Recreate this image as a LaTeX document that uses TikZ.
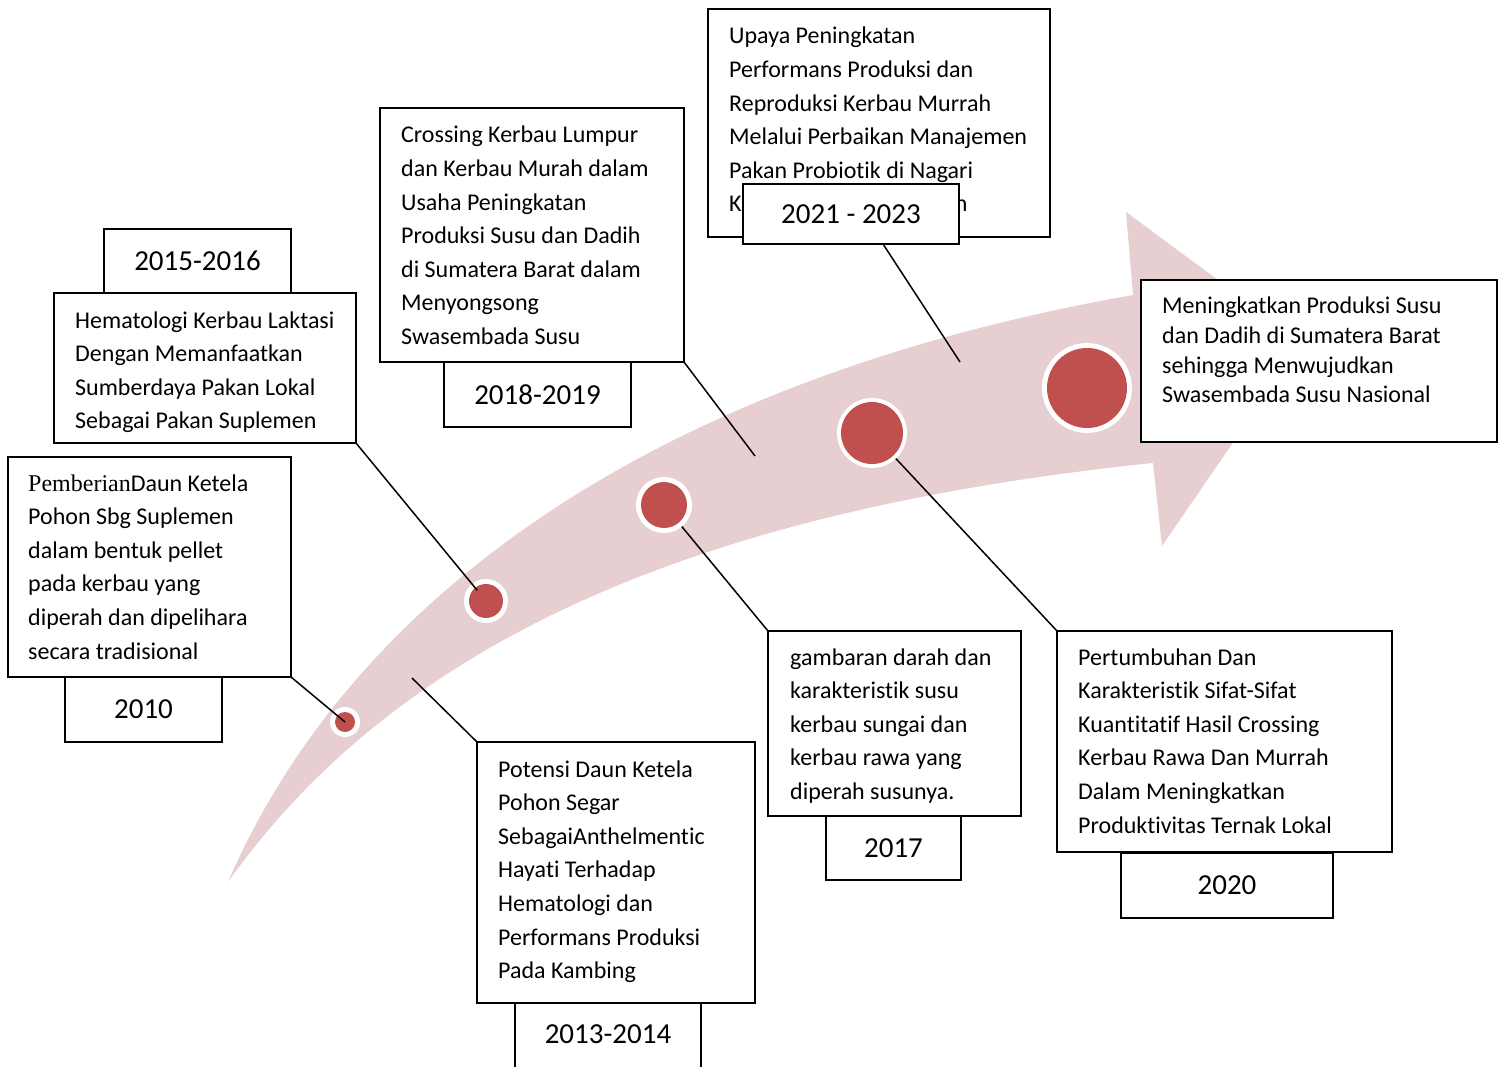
\documentclass[tikz,border=0pt]{standalone}
\usepackage{fontspec}
\setmainfont[Ligatures=CommonOff]{Carlito}
\newfontfamily\serifpart{Liberation Serif}
\usetikzlibrary{calc}
\definecolor{band}{RGB}{231,207,209}
\definecolor{dot}{RGB}{192,80,77}
\newcommand\bodyfont{\fontsize{24}{33.6}\selectfont}
\newcommand\yearfont{\fontsize{29}{34}\selectfont}
\begin{document}
\begin{tikzpicture}[x=1pt,y=-1pt,
  box/.style={draw=black,line width=1.6pt,fill=white,inner sep=0pt,outer sep=0pt},
  txt/.style={anchor=base west,inner sep=0pt,font=\bodyfont},
  yr/.style={inner sep=0pt,font=\yearfont},
  conn/.style={draw=black,line width=1.5pt},
  ring/.style={circle,fill=white,inner sep=0pt,outer sep=0pt},
  reddot/.style={circle,fill=dot,inner sep=0pt,outer sep=0pt}]
\useasboundingbox (0,0) rectangle (1502,1067);
\clip (0,0) rectangle (1502,1067);
% curved arrow
\fill[band] (228,882) .. controls (350,600) and (650,380) .. (1133,295)
  -- (1126,212) -- (1302,342) -- (1162,546) -- (1153,463)
  .. controls (700,510) and (400,640) .. (228,882) -- cycle;
% circles
\node[ring,minimum size=30pt] (r1) at (345,722) {};
\node[reddot,minimum size=20pt] (c1) at (345,722) {};
\node[ring,minimum size=44pt] (r2) at (486,601) {};
\node[reddot,minimum size=34pt] (c2) at (486,601) {};
\node[ring,minimum size=56pt] (r3) at (664,505) {};
\node[reddot,minimum size=46pt] (c3) at (664,505) {};
\node[ring,minimum size=70pt] (r4) at (872,433) {};
\node[reddot,minimum size=62pt] (c4) at (872,433) {};
\node[ring,minimum size=90pt] (r5) at (1087,388) {};
\node[reddot,minimum size=80pt] (c5) at (1087,388) {};
% boxes
\node[box,minimum width=283pt,minimum height=220pt] (A) at (149.5,567) {};
\node[box,minimum width=302pt,minimum height=150pt] (B) at (205,368) {};
\node[box,minimum width=304pt,minimum height=254pt] (C) at (532,235) {};
\node[box,minimum width=342pt,minimum height=228pt] (D) at (879,123) {};
\node[box,minimum width=356pt,minimum height=162pt] (E) at (1319,361) {};
\node[box,minimum width=253pt,minimum height=185pt] (F) at (894.5,723.5) {};
\node[box,minimum width=335pt,minimum height=221pt] (G) at (1224.5,741.5) {};
\node[box,minimum width=278pt,minimum height=261pt] (H) at (616,872.5) {};
% texts
\node[txt] (A0) at (28,491) {{\serifpart Pemberian}Daun Ketela};
\foreach \t [count=\i] in {Pohon Sbg Suplemen,dalam bentuk pellet,pada kerbau yang,diperah dan dipelihara,secara tradisional}
  \node[txt] (A\i) at (28,491+33.6*\i) {\t};
\foreach \t [count=\i from 0] in {Hematologi Kerbau Laktasi,Dengan Memanfaatkan,Sumberdaya Pakan Lokal,Sebagai Pakan Suplemen}
  \node[txt] (B\i) at (75,328+33.6*\i) {\t};
\foreach \t [count=\i from 0] in {Crossing Kerbau Lumpur,dan Kerbau Murah dalam,Usaha Peningkatan,Produksi Susu dan Dadih,di Sumatera Barat dalam,Menyongsong,Swasembada Susu}
  \node[txt] (C\i) at (401,143+33.6*\i) {\t};
\foreach \t [count=\i from 0] in {Upaya Peningkatan,Performans Produksi dan,Reproduksi Kerbau Murrah,Melalui Perbaikan Manajemen,Pakan Probiotik di Nagari,Kecamatan Payakumbuh}
  \node[txt] (D\i) at (729,44+33.6*\i) {\t};
\foreach \t [count=\i from 0] in {Meningkatkan Produksi Susu,dan Dadih di Sumatera Barat,sehingga Menwujudkan,Swasembada Susu Nasional}
  \node[txt] (E\i) at (1162,314+29.5*\i) {\t};
\foreach \t [count=\i from 0] in {gambaran darah dan,karakteristik susu,kerbau sungai dan,kerbau rawa yang,diperah susunya.}
  \node[txt] (F\i) at (790,665+33.6*\i) {\t};
\foreach \t [count=\i from 0] in {Pertumbuhan Dan,Karakteristik Sifat-Sifat,Kuantitatif Hasil Crossing,Kerbau Rawa Dan Murrah,Dalam Meningkatkan,Produktivitas Ternak Lokal}
  \node[txt] (G\i) at (1078,665+33.6*\i) {\t};
\foreach \t [count=\i from 0] in {Potensi Daun Ketela,Pohon Segar,SebagaiAnthelmentic,Hayati Terhadap,Hematologi dan,Performans Produksi,Pada Kambing}
  \node[txt] (H\i) at (498,777+33.6*\i) {\t};
% year boxes
\node[box,yr,minimum width=157pt,minimum height=65pt] (Y2010) at (143.5,709.5) {2010};
\node[box,yr,minimum width=187pt,minimum height=64pt] (Y2015) at (197.5,261) {2015-2016};
\node[box,yr,minimum width=187pt,minimum height=65pt] (Y2018) at (537.5,394.5) {2018-2019};
\node[box,yr,minimum width=216pt,minimum height=60pt] (Y2021) at (851,214) {2021 - 2023};
\node[box,yr,minimum width=135pt,minimum height=64pt] (Y2017) at (893.5,848) {2017};
\node[box,yr,minimum width=212pt,minimum height=65pt] (Y2020) at (1227,885.5) {2020};
\node[box,minimum width=186pt,minimum height=100pt] (Y2013) at (608,1053) {};
\node[yr] (Y2013t) at (608,1034) {2013-2014};
% connectors
\coordinate (f1) at (412,678);
\coordinate (f2) at (755,456);
\coordinate (f3) at (960,362);
\coordinate (s21) at (883,244);
\draw[conn] (A.south east) -- (c1.center);
\draw[conn] (B.south east) -- ($(c2.center)!14pt!(B.south east)$);
\draw[conn] (f1) -- (H.north west);
\draw[conn] (C.south east) -- (f2);
\draw[conn] (r3) -- (F.north west);
\draw[conn] (s21) -- (f3);
\draw[conn] (r4) -- (G.north west);
\end{tikzpicture}
\end{document}
